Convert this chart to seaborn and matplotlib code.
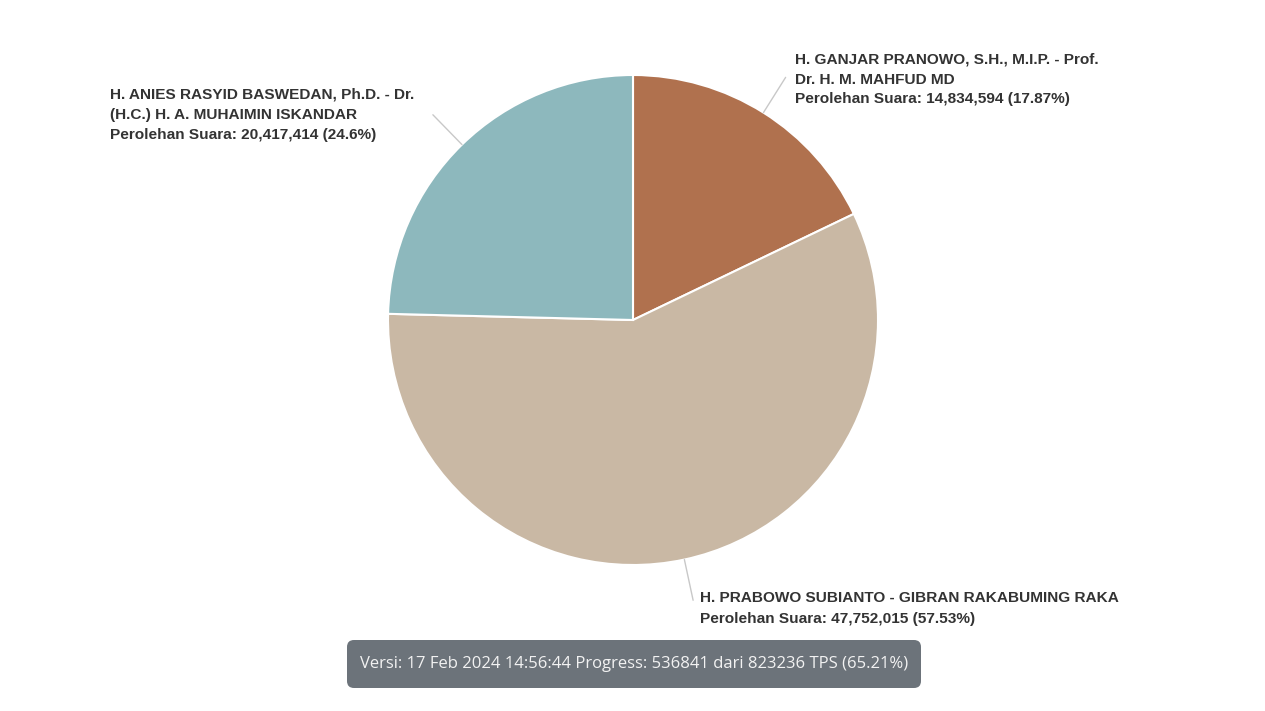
import numpy as np
import matplotlib
matplotlib.use("Agg")
import matplotlib.pyplot as plt
import seaborn as sns
from matplotlib.patches import FancyBboxPatch

sns.set_theme(style="white")
plt.rcParams['font.family'] = ['Liberation Sans', 'DejaVu Sans']

# ---- data ----
candidates = [
    ["H. GANJAR PRANOWO, S.H., M.I.P. - Prof.", "Dr. H. M. MAHFUD MD"],
    ["H. PRABOWO SUBIANTO - GIBRAN RAKABUMING RAKA"],
    ["H. ANIES RASYID BASWEDAN, Ph.D. - Dr.", "(H.C.) H. A. MUHAIMIN ISKANDAR"],
]
votes = [14834594, 47752015, 20417414]
percents = ["17.87%", "57.53%", "24.6%"]
colors = ["#B0714E", "#C9B8A4", "#8DB8BD"]
footer = "Versi: 17 Feb 2024 14:56:44 Progress: 536841 dari 823236 TPS (65.21%)"

W, H = 1265, 711
fig = plt.figure(figsize=(W / 100, H / 100), dpi=100)
fig.patch.set_facecolor("white")

# pie axes: center (633, 320), radius 245 px
cx, cy, r = 633, 320, 245
ax = fig.add_axes([(cx - r) / W, (H - cy - r) / H, 2 * r / W, 2 * r / H])
wedges, _ = ax.pie(votes, colors=colors, startangle=90, counterclock=False,
                   wedgeprops=dict(edgecolor="white", linewidth=1.5), radius=1.0)
ax.set_xlim(-1, 1)
ax.set_ylim(-1, 1)
ax.set_aspect("equal")
ax.axis("off")

# leader lines from wedge mid-angles
for w in wedges:
    ang = np.deg2rad((w.theta1 + w.theta2) / 2)
    ax.plot([1.0 * np.cos(ang), 1.17 * np.cos(ang)],
            [1.0 * np.sin(ang), 1.17 * np.sin(ang)],
            color="#C8C8C8", lw=1.0, clip_on=False)

# overlay axes in pixel coordinates for labels/footer
ov = fig.add_axes([0, 0, 1, 1])
ov.set_xlim(0, W)
ov.set_ylim(H, 0)
ov.axis("off")
ov.patch.set_alpha(0)

label_pos = [(795, 58), (700, 597), (110, 93)]
for name_lines, v, p, (x, y) in zip(candidates, votes, percents, label_pos):
    lines = name_lines + [f"Perolehan Suara: {v:,} ({p})"]
    for i, line in enumerate(lines):
        ov.text(x, y + 20 * i, line, ha="left", va="center_baseline",
                fontsize=11.1, fontweight="bold", color="#333333")

box = FancyBboxPatch((347, 640), 574, 48, boxstyle="round,pad=0,rounding_size=7",
                     facecolor="#6C737A", edgecolor="none")
ov.add_patch(box)
ov.text(634, 664, footer, ha="center", va="center", fontsize=12,
        color="#F2F2F2", family=["Open Sans", "DejaVu Sans"])

fig.savefig("out.png", dpi=100, facecolor="white")
